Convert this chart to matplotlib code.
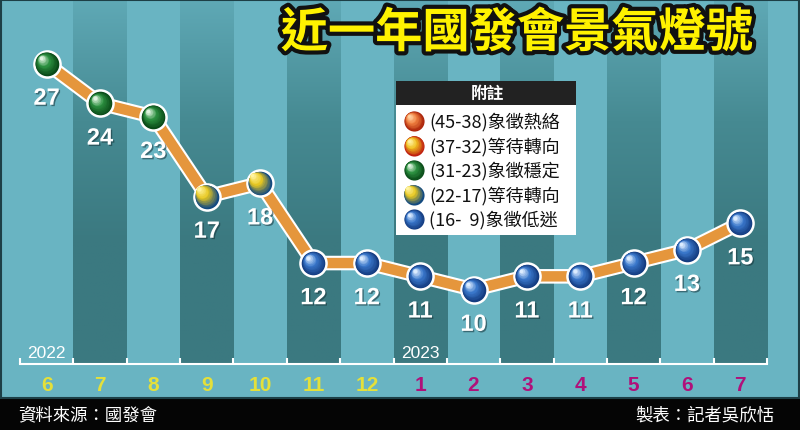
import numpy as np
import matplotlib
matplotlib.use('Agg')
import matplotlib.pyplot as plt
import matplotlib.patheffects as pe
from matplotlib.colors import LinearSegmentedColormap, to_rgb
from matplotlib.transforms import ScaledTranslation
from matplotlib.patches import Rectangle

plt.rcParams['font.family'] = ['Noto Sans CJK TC', 'DejaVu Sans']

# ----------------------------------------------------------------------
# Data (國發會景氣對策信號, 2022/6 - 2023/7)
# ----------------------------------------------------------------------
months = ['6', '7', '8', '9', '10', '11', '12', '1', '2', '3', '4', '5', '6', '7']
scores = [27, 24, 23, 17, 18, 12, 12, 11, 10, 11, 11, 12, 13, 15]
years = {0: '2022', 7: '2023'}

legend_labels = ['(45-38)象徵熱絡', '(37-32)等待轉向', '(31-23)象徵穩定',
                 '(22-17)等待轉向', '(16-  9)象徵低迷']

# ball colours: (edge, middle, highlight) per signal
BALLS = {
    'red':    ('#a82008', '#f08040', '#ffd0a0'),
    'yellow': ('#c02010', '#f0c020', '#fff0a0'),
    'green':  ('#0a4a18', '#2c9040', '#e0f4e0'),
    'yblue':  ('#134a80', '#e8c820', '#fff4a0'),
    'blue':   ('#143c80', '#3a78cc', '#dcecff'),
}


def signal(v):
    if v >= 38:
        return 'red'
    if v >= 32:
        return 'yellow'
    if v >= 23:
        return 'green'
    if v >= 17:
        return 'yblue'
    return 'blue'


LIGHT = '#69b4c2'
DARK = '#3b7980'

fig = plt.figure(figsize=(8, 4.31), dpi=100, facecolor=LIGHT)


def ball(axes, x, y, kind, diam=15.5, ring=1.6, n=14):
    """Shaded sphere with white ring, built from offset circles."""
    edge, mid, hi = BALLS[kind]
    if ring:
        axes.scatter([x], [y], s=(diam + 2 * ring) ** 2, color='white',
                     zorder=4, linewidths=0)
    c0, c1, c2 = map(np.array, map(to_rgb, (edge, mid, hi)))
    for k in range(n):
        t = k / (n - 1)
        d = diam * (1 - 0.85 * t)
        off = (diam - d) / 2 * (0.55 if kind != 'yblue' else 0.8)
        if t < 0.55:
            col = c0 + (c1 - c0) * (t / 0.55)
        else:
            col = c1 + (c2 - c1) * ((t - 0.55) / 0.45)
        tr = axes.transData + ScaledTranslation(-off / 72, off / 72,
                                                fig.dpi_scale_trans)
        axes.scatter([x], [y], s=d ** 2, color=[col], transform=tr,
                     zorder=5, linewidths=0)


# ----------------------------------------------------------------------
# Data axes
# ----------------------------------------------------------------------
YLO, YHI = 4.41, 31.85
ax = fig.add_axes([20 / 800, (431 - 365) / 431, 747 / 800, 365 / 431])
ax.set_facecolor(LIGHT)

grad = LinearSegmentedColormap.from_list('col', ['#5fa9b6', '#468a92', DARK, DARK])
g = np.linspace(0, 1, 256).reshape(-1, 1)
for i in range(1, len(months), 2):
    ax.imshow(g, cmap=grad, extent=[i - 0.5, i + 0.5, YLO, YHI],
              aspect='auto', origin='upper', zorder=0)
ax.set_xlim(-0.5, len(months) - 0.5)
ax.set_ylim(YLO, YHI)

x = np.arange(len(months))
ax.plot(x, scores, color='white', linewidth=10.5, solid_capstyle='butt',
        solid_joinstyle='miter', zorder=2)
ax.plot(x, scores, color='#e5963c', linewidth=7.5, solid_capstyle='butt',
        solid_joinstyle='miter', zorder=3)

for xi, v in zip(x, scores):
    ball(ax, xi, v, signal(v), diam=17, ring=1.8)
    ax.annotate(str(v), xy=(xi, v), xytext=(0, -25), textcoords='offset points',
                ha='center', va='center', fontsize=17, fontweight='bold',
                color='white', family=['Liberation Sans'], zorder=6,
                path_effects=[pe.withSimplePatchShadow(offset=(1, -1),
                                                       shadow_rgbFace='#1a3a40',
                                                       alpha=0.6)])

for i, yr in years.items():
    ax.annotate(yr, xy=(i, 0), xycoords=('data', 'axes fraction'),
                xytext=(0, 3), textcoords='offset points', ha='center',
                va='bottom', fontsize=12.5, color='white',
                family=['Liberation Sans'])

for s in ['top', 'right', 'left']:
    ax.spines[s].set_visible(False)
ax.spines['bottom'].set_color('white')
ax.spines['bottom'].set_linewidth(1.5)
ax.set_yticks([])
ax.set_xticks(np.arange(-0.5, len(months)))
ax.tick_params(axis='x', which='major', direction='in', length=4, width=1.5,
               colors='white', labelbottom=False)
ax.set_xticks(x, labels=months, minor=True)
ax.tick_params(axis='x', which='minor', length=0, pad=8, labelsize=15)
for i, lab in enumerate(ax.get_xticklabels(minor=True)):
    lab.set_color('#e4e03a' if i < 7 else '#b0107a')
    lab.set_fontweight('bold')
    lab.set_family(['Liberation Sans'])

# ----------------------------------------------------------------------
# Overlay in pixel coordinates: title, legend, footer
# ----------------------------------------------------------------------
fg = fig.add_axes([0, 0, 1, 1], zorder=10)
fg.set_xlim(0, 800)
fg.set_ylim(431, 0)
fg.axis('off')
fg.patch.set_alpha(0)

fg.text(517, 34, '近一年國發會景氣燈號', ha='center', va='center', fontsize=34,
        fontweight='bold', color='#fff200',
        path_effects=[pe.withStroke(linewidth=6, foreground='#111111')])

# legend box
fg.add_patch(Rectangle((396, 82), 180, 24, facecolor='#222222', edgecolor='none'))
fg.add_patch(Rectangle((396, 106), 180, 130, facecolor='white', edgecolor='none'))
fg.text(487, 94, '附註', ha='center', va='center', fontsize=12,
        fontweight='bold', color='white')
for j, (lab, kind) in enumerate(zip(legend_labels,
                                    ['red', 'yellow', 'green', 'yblue', 'blue'])):
    yy = 122 + j * 24.6
    ball(fg, 414, yy, kind, diam=14.5, ring=0)
    fg.text(429, yy, lab, ha='left', va='center', fontsize=13, color='#111111')

# footer
fg.add_patch(Rectangle((0, 399), 800, 32, facecolor='#050505', edgecolor='none'))
fg.text(18, 415, '資料來源：國發會', ha='left', va='center', fontsize=12.5,
        color='white')
fg.text(774, 415, '製表：記者吳欣恬', ha='right', va='center', fontsize=12.5,
        color='white')

# thin frame
fg.add_patch(Rectangle((1, 1), 798, 398, facecolor='none', edgecolor='#1d3f46',
                       linewidth=1.5))

fig.savefig('out.png', dpi=100, facecolor=LIGHT)
